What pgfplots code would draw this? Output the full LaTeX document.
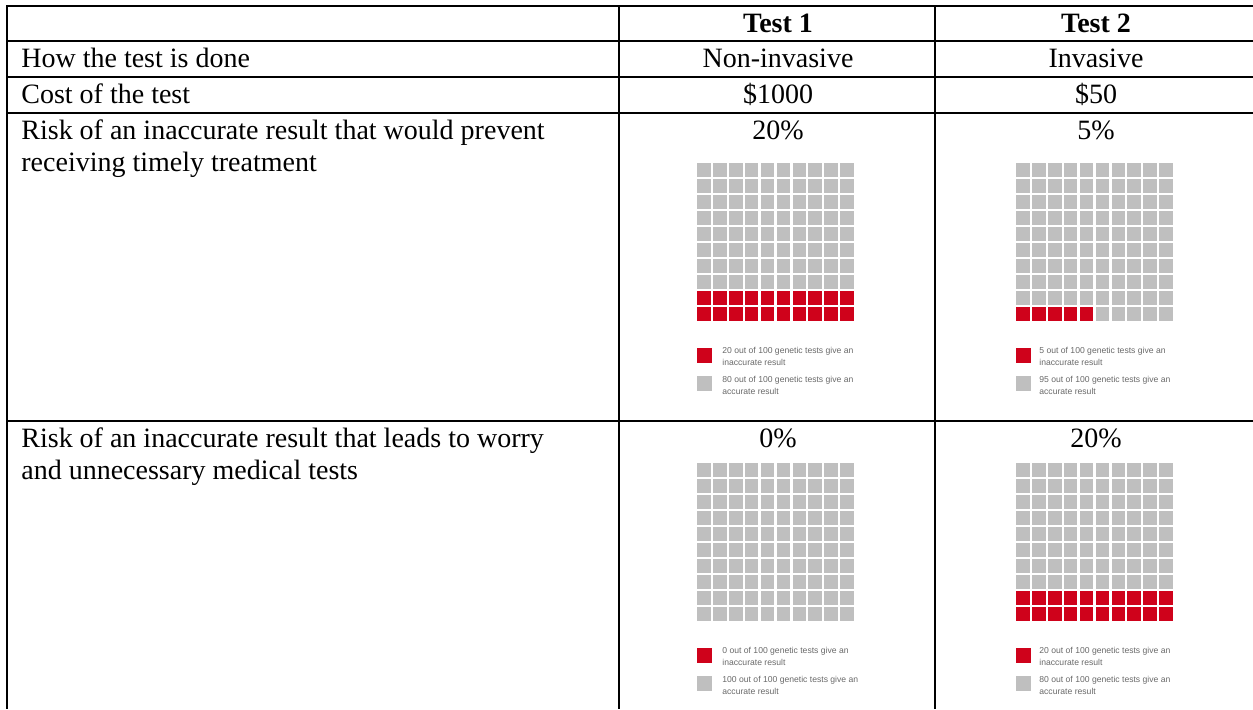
\documentclass[border=0pt]{standalone}
\usepackage{pgfplots}
\usepackage{pgfplotstable}
\pgfplotsset{compat=1.18}
\usepackage{fontspec}
\setmainfont{Liberation Serif}
\newfontfamily\lsans{Liberation Sans}
\definecolor{wred}{RGB}{207,2,27}
\definecolor{wgray}{RGB}{191,191,191}
\definecolor{ltxt}{RGB}{105,105,105}

% grid cells of a 10x10 waffle (c = column, r = row from top)
\pgfplotstableread[row sep=\\]{
c r\\
0 0\\ 1 0\\ 2 0\\ 3 0\\ 4 0\\ 5 0\\ 6 0\\ 7 0\\ 8 0\\ 9 0\\
0 1\\ 1 1\\ 2 1\\ 3 1\\ 4 1\\ 5 1\\ 6 1\\ 7 1\\ 8 1\\ 9 1\\
0 2\\ 1 2\\ 2 2\\ 3 2\\ 4 2\\ 5 2\\ 6 2\\ 7 2\\ 8 2\\ 9 2\\
0 3\\ 1 3\\ 2 3\\ 3 3\\ 4 3\\ 5 3\\ 6 3\\ 7 3\\ 8 3\\ 9 3\\
0 4\\ 1 4\\ 2 4\\ 3 4\\ 4 4\\ 5 4\\ 6 4\\ 7 4\\ 8 4\\ 9 4\\
0 5\\ 1 5\\ 2 5\\ 3 5\\ 4 5\\ 5 5\\ 6 5\\ 7 5\\ 8 5\\ 9 5\\
0 6\\ 1 6\\ 2 6\\ 3 6\\ 4 6\\ 5 6\\ 6 6\\ 7 6\\ 8 6\\ 9 6\\
0 7\\ 1 7\\ 2 7\\ 3 7\\ 4 7\\ 5 7\\ 6 7\\ 7 7\\ 8 7\\ 9 7\\
0 8\\ 1 8\\ 2 8\\ 3 8\\ 4 8\\ 5 8\\ 6 8\\ 7 8\\ 8 8\\ 9 8\\
0 9\\ 1 9\\ 2 9\\ 3 9\\ 4 9\\ 5 9\\ 6 9\\ 7 9\\ 8 9\\ 9 9\\
}\gridcells
% red cells: 20 of 100
\pgfplotstableread[row sep=\\]{
c r\\
0 8\\ 1 8\\ 2 8\\ 3 8\\ 4 8\\ 5 8\\ 6 8\\ 7 8\\ 8 8\\ 9 8\\
0 9\\ 1 9\\ 2 9\\ 3 9\\ 4 9\\ 5 9\\ 6 9\\ 7 9\\ 8 9\\ 9 9\\
}\redtwenty
% red cells: 5 of 100
\pgfplotstableread[row sep=\\]{
c r\\
0 9\\ 1 9\\ 2 9\\ 3 9\\ 4 9\\
}\redfive

\begin{document}
\begin{tikzpicture}
\useasboundingbox (0,0) rectangle (626.5pt,354.5pt);
\begin{axis}[
  width=626.5pt, height=354.5pt, scale only axis,
  xmin=0, xmax=1253, ymin=0, ymax=709, y dir=reverse,
  hide axis, clip=false,
  gcell/.style={only marks, mark=square*, mark size=3.15pt, color=wgray, mark options={solid, line width=0.3pt}},
  rcell/.style={only marks, mark=square*, mark size=3.15pt, color=wred, mark options={solid, line width=0.3pt}},
]
% ---- table rules
\addplot[black, line width=1.2pt] coordinates {(7,6) (1253,6)};
\addplot[black, line width=1.2pt] coordinates {(7,41) (1253,41)};
\addplot[black, line width=1.2pt] coordinates {(7,77) (1253,77)};
\addplot[black, line width=1.2pt] coordinates {(7,113) (1253,113)};
\addplot[black, line width=1.2pt] coordinates {(7,421) (1253,421)};
\addplot[black, line width=1.2pt] coordinates {(7,5.4) (7,709)};
\addplot[black, line width=1.2pt] coordinates {(619,5.4) (619,709)};
\addplot[black, line width=1.2pt] coordinates {(935,5.4) (935,709)};

% ---- waffles: gray grid
\addplot[gcell] table[x expr=\thisrow{c}*15.9+703.7, y expr=\thisrow{r}*16+169.7] {\gridcells};
\addplot[gcell] table[x expr=\thisrow{c}*15.9+1022.7, y expr=\thisrow{r}*16+169.7] {\gridcells};
\addplot[gcell] table[x expr=\thisrow{c}*15.9+703.7, y expr=\thisrow{r}*16+469.7] {\gridcells};
\addplot[gcell] table[x expr=\thisrow{c}*15.9+1022.7, y expr=\thisrow{r}*16+469.7] {\gridcells};
% ---- waffles: red cells
\addplot[rcell] table[x expr=\thisrow{c}*15.9+703.7, y expr=\thisrow{r}*16+169.7] {\redtwenty};
\addplot[rcell] table[x expr=\thisrow{c}*15.9+1022.7, y expr=\thisrow{r}*16+169.7] {\redfive};
\addplot[rcell] table[x expr=\thisrow{c}*15.9+1022.7, y expr=\thisrow{r}*16+469.7] {\redtwenty};

% ---- legend swatches
\addplot[rcell, mark size=3.5pt] coordinates {(704.5,355) (1023,355) (704.5,655) (1023,655)};
\addplot[gcell, mark size=3.5pt] coordinates {(704.5,383.5) (1023,383.5) (704.5,683.5) (1023,683.5)};

% ---- header
\node[anchor=base, font=\fontsize{14}{16}\selectfont\bfseries] at (axis cs:778,32) {Test 1};
\node[anchor=base, font=\fontsize{14}{16}\selectfont\bfseries] at (axis cs:1096,32) {Test 2};
% ---- row texts
\tikzset{rowtxt/.style={anchor=base west, inner sep=0pt, font=\fontsize{14}{16}\selectfont},
         celltxt/.style={anchor=base, inner sep=0pt, font=\fontsize{14}{16}\selectfont}}
\node[rowtxt] at (axis cs:21,67) {How the test is done};
\node[celltxt] at (axis cs:778,67) {Non-invasive};
\node[celltxt] at (axis cs:1096,67) {Invasive};
\node[rowtxt] at (axis cs:21,103) {Cost of the test};
\node[celltxt] at (axis cs:778,103) {\$1000};
\node[celltxt] at (axis cs:1096,103) {\$50};
\node[rowtxt] at (axis cs:21,139) {Risk of an inaccurate result that would prevent};
\node[rowtxt] at (axis cs:21,171) {receiving timely treatment};
\node[celltxt] at (axis cs:778,139) {20\%};
\node[celltxt] at (axis cs:1096,139) {5\%};
\node[rowtxt] at (axis cs:21,447) {Risk of an inaccurate result that leads to worry};
\node[rowtxt] at (axis cs:21,479) {and unnecessary medical tests};
\node[celltxt] at (axis cs:778,447) {0\%};
\node[celltxt] at (axis cs:1096,447) {20\%};

% ---- legend texts
\tikzset{lg/.style={anchor=base west, inner sep=0pt, text=ltxt, font=\lsans\fontsize{4.3}{5}\selectfont}}
\node[lg] at (axis cs:722,353) {20 out of 100 genetic tests give an};
\node[lg] at (axis cs:722,365) {inaccurate result};
\node[lg] at (axis cs:722,382) {80 out of 100 genetic tests give an};
\node[lg] at (axis cs:722,394) {accurate result};
\node[lg] at (axis cs:1039,353) {5 out of 100 genetic tests give an};
\node[lg] at (axis cs:1039,365) {inaccurate result};
\node[lg] at (axis cs:1039,382) {95 out of 100 genetic tests give an};
\node[lg] at (axis cs:1039,394) {accurate result};
\node[lg] at (axis cs:722,653) {0 out of 100 genetic tests give an};
\node[lg] at (axis cs:722,665) {inaccurate result};
\node[lg] at (axis cs:722,682) {100 out of 100 genetic tests give an};
\node[lg] at (axis cs:722,694) {accurate result};
\node[lg] at (axis cs:1039,653) {20 out of 100 genetic tests give an};
\node[lg] at (axis cs:1039,665) {inaccurate result};
\node[lg] at (axis cs:1039,682) {80 out of 100 genetic tests give an};
\node[lg] at (axis cs:1039,694) {accurate result};
\end{axis}
\end{tikzpicture}
\end{document}
